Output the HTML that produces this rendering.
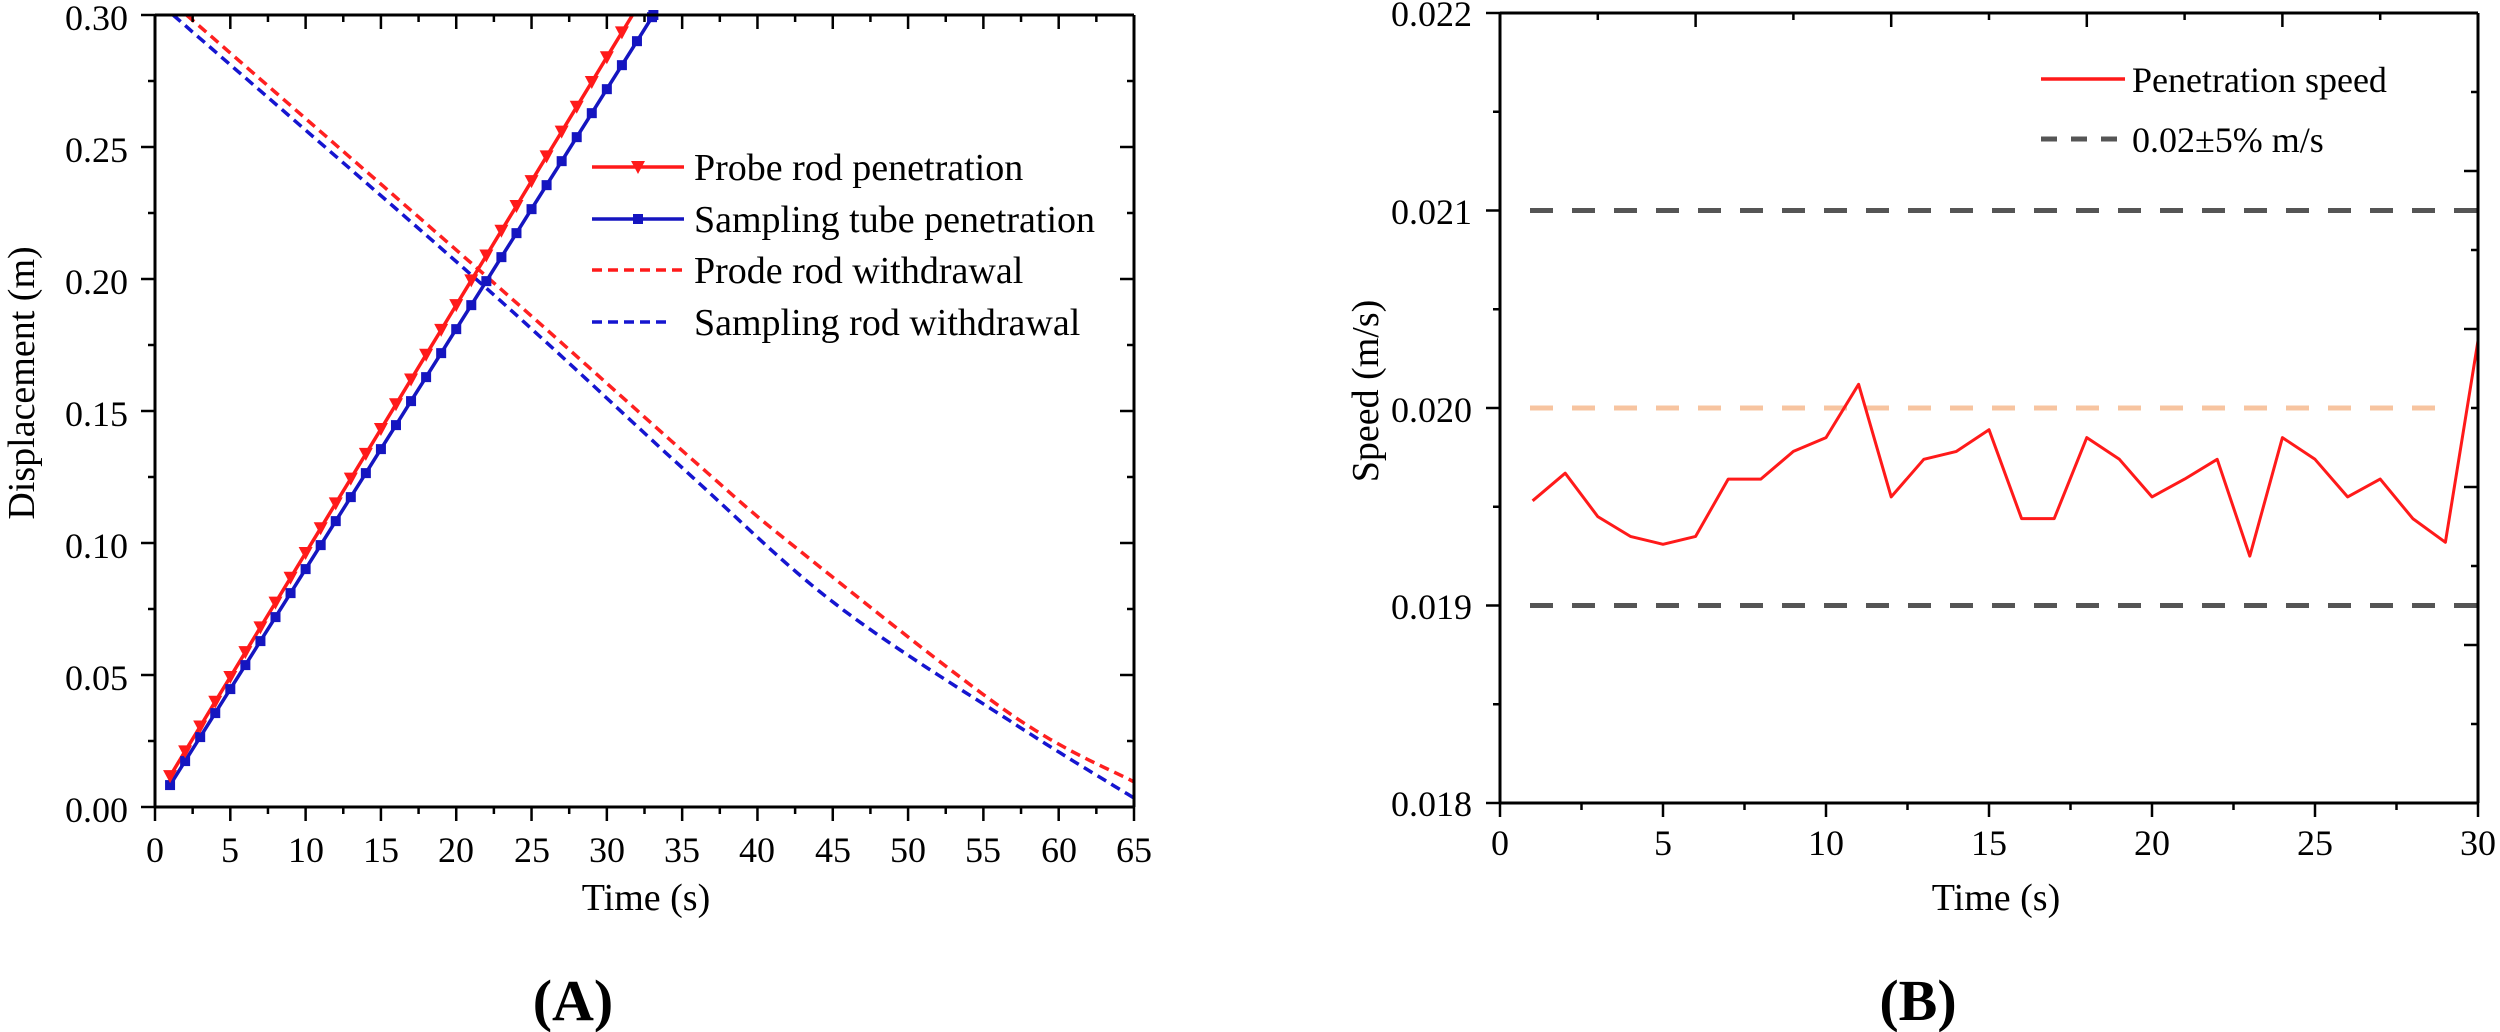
<!DOCTYPE html>
<html><head><meta charset="utf-8"><style>
html,body{margin:0;padding:0;background:#fff}
svg{display:block}
text{font-family:"Liberation Serif",serif;fill:#000}
</style></head><body>
<svg id="s" width="2500" height="1032" viewBox="0 0 2500 1032" xmlns="http://www.w3.org/2000/svg">
<rect width="2500" height="1032" fill="#fff"/>
<g id="g"></g>
<g font-size="36" text-anchor="end">
<text x="128" y="822">0.00</text><text x="128" y="690">0.05</text><text x="128" y="558">0.10</text>
<text x="128" y="426">0.15</text><text x="128" y="294">0.20</text><text x="128" y="162">0.25</text><text x="128" y="30">0.30</text>
</g>
<g font-size="36" text-anchor="middle">
<text x="155" y="862">0</text><text x="230" y="862">5</text><text x="306" y="862">10</text><text x="381" y="862">15</text>
<text x="456" y="862">20</text><text x="532" y="862">25</text><text x="607" y="862">30</text><text x="682" y="862">35</text>
<text x="757" y="862">40</text><text x="833" y="862">45</text><text x="908" y="862">50</text><text x="983" y="862">55</text>
<text x="1059" y="862">60</text><text x="1134" y="862">65</text>
</g>
<text x="646" y="910" font-size="38" text-anchor="middle">Time (s)</text>
<text transform="translate(34,383) rotate(-90)" font-size="38" text-anchor="middle">Displacement (m)</text>
<text x="573" y="1020" font-size="58" font-weight="bold" text-anchor="middle">(A)</text>
<g font-size="38">
<text x="694" y="180">Probe rod penetration</text>
<text x="694" y="232">Sampling tube penetration</text>
<text x="694" y="283">Prode rod withdrawal</text>
<text x="694" y="335">Sampling rod withdrawal</text>
</g>
<g font-size="36" text-anchor="end">
<text x="1472" y="816">0.018</text><text x="1472" y="619">0.019</text><text x="1472" y="422">0.020</text>
<text x="1472" y="224">0.021</text><text x="1472" y="26">0.022</text>
</g>
<g font-size="36" text-anchor="middle">
<text x="1500" y="855">0</text><text x="1663" y="855">5</text><text x="1826" y="855">10</text><text x="1989" y="855">15</text>
<text x="2152" y="855">20</text><text x="2315" y="855">25</text><text x="2478" y="855">30</text>
</g>
<text x="1996" y="910" font-size="38" text-anchor="middle">Time (s)</text>
<text transform="translate(1378,391) rotate(-90)" font-size="38" text-anchor="middle">Speed (m/s)</text>
<text x="1918" y="1020" font-size="58" font-weight="bold" text-anchor="middle">(B)</text>
<g font-size="36">
<text x="2132" y="92">Penetration speed</text>
<text x="2132" y="152">0.02±5% m/s</text>
</g>
</svg>
<script>
var g=document.getElementById('g'),NS='http://www.w3.org/2000/svg';
function el(t,a){var e=document.createElementNS(NS,t);for(var k in a)e.setAttribute(k,a[k]);g.appendChild(e);return e;}
function line(x1,y1,x2,y2,c,w,d){var a={x1:x1,y1:y1,x2:x2,y2:y2,stroke:c,'stroke-width':w};if(d)a['stroke-dasharray']=d;el('line',a);}
function path(pts,c,w,d){var s='M'+pts.map(function(p){return p[0].toFixed(1)+','+p[1].toFixed(1)}).join('L');var a={d:s,fill:'none',stroke:c,'stroke-width':w,'stroke-linejoin':'round'};if(d)a['stroke-dasharray']=d;el('path',a);}
var L=155,R=1134,T=15,B=807;
function ax(t){return L+t*(R-L)/65} function ay(v){return B-v*(B-T)/0.30}
// Catmull-Rom through points
function smooth(P,col){var out=[];for(var i=0;i<P.length-1;i++){var p0=P[Math.max(0,i-1)],p1=P[i],p2=P[i+1],p3=P[Math.min(P.length-1,i+2)];
 for(var s=0;s<1;s+=0.05){var s2=s*s,s3=s2*s;var f=function(a,b,c,d){return 0.5*((2*b)+(-a+c)*s+(2*a-5*b+4*c-d)*s2+(-a+3*b-3*c+d)*s3)};
 out.push([ax(f(p0[0],p1[0],p2[0],p3[0])),ay(f(p0[1],p1[1],p2[1],p3[1]))]);}}
 var l=P[P.length-1];out.push([ax(l[0]),ay(l[1])]);path(out,col,3.5,'10,6');}
smooth([[1.2,.30],[22.1,.196],[35.1,.128],[45.2,.0768],[57.2,.031],[65,.0034]],'#1515d0');
smooth([[2.1,.30],[22.6,.198],[35.8,.131],[42.4,.0989],[56.8,.0352],[65,.0095]],'#ff2020');
var pr=[],pb=[];
for(var t=1;t<=33;t++){var v=0.0117+(t-1)*0.00939;if(v<=0.3)pr.push([ax(t),ay(v)]);}
pr.push([ax(1+(0.3-0.0117)/0.00939),ay(0.3)]);
for(var t=1;t<=34;t++){var v=0.0083+(t-1)*0.00909;if(v<=0.3)pb.push([ax(t),ay(v)]);}
pb.push([ax(1+(0.3-0.0083)/0.00909),ay(0.3)]);
path(pb,'#1515c0',3.5);path(pr,'#ff1a1a',3.5);
pb.forEach(function(p){el('rect',{x:p[0]-5,y:p[1]-5,width:10,height:10,fill:'#1515c0'});});
pr.forEach(function(p,i){if(i<pr.length-1)el('path',{d:'M'+(p[0]-7)+','+(p[1]-6)+'L'+(p[0]+7)+','+(p[1]-6)+'L'+p[0]+','+(p[1]+7)+'Z',fill:'#ff1a1a'});});
line(L,T,R,T,'#000',3);line(L,B,R,B,'#000',3);line(L,T,L,B,'#000',3);line(R,T,R,B,'#000',3);
for(var i=0;i<=26;i++){var x=L+i*(R-L)/26,lg=i%2==0;line(x,B,x,B+(lg?14:7),'#000',2.5);line(x,T,x,T+(lg?14:7),'#000',2.5);}
for(var i=0;i<=12;i++){var y=B-i*(B-T)/12,lg=i%2==0;line(L,y,L-(lg?14:7),y,'#000',2.5);line(R,y,R-(lg?14:7),y,'#000',2.5);}
line(592,167,684,167,'#ff1a1a',3.5);el('path',{d:'M631,161L645,161L638,174Z',fill:'#ff1a1a'});
line(592,219,684,219,'#1515c0',3.5);el('rect',{x:633,y:214,width:10,height:10,fill:'#1515c0'});
line(592,270,684,270,'#ff1a1a',3.5,'10,6');
line(592,322,670,322,'#1515d0',3.5,'10,6');
var L2=1500,R2=2478,T2=13,B2=803;
function bx(t){return L2+t*(R2-L2)/30} function by(v){return B2-(v-0.018)*(B2-T2)/0.004}
line(1530,by(0.021),R2,by(0.021),'#555',5,'23,19');
line(1530,by(0.019),R2,by(0.019),'#555',5,'23,19');
line(1530,by(0.020),2451,by(0.020),'#f7c4a0',5,'23,19');
var sp=[.01953,.01967,.01945,.01935,.01931,.01935,.01964,.01964,.01978,.01985,.02012,.01955,.01974,.01978,.01989,.01944,.01944,.01985,.01974,.01955,.01964,.01974,.01925,.01985,.01974,.01955,.01964,.01944,.01932,.02034];
path(sp.map(function(v,i){return [bx(i+1),by(v)]}),'#ff1a1a',3);
line(L2,T2,R2,T2,'#000',3);line(L2,B2,R2,B2,'#000',3);line(L2,T2,L2,B2,'#000',3);line(R2,T2,R2,B2,'#000',3);
for(var i=0;i<=12;i++){var x=L2+i*(R2-L2)/12,lg=i%2==0;line(x,B2,x,B2+(lg?14:7),'#000',2.5);}
for(var i=1;i<10;i++){var x=L2+i*97.8,lg=i%2==0;line(x,T2,x,T2+(lg?14:7),'#000',2.5);}
for(var i=0;i<=8;i++){var y=B2-i*(B2-T2)/8,lg=i%2==0;line(L2,y,L2-(lg?14:7),y,'#000',2.5);}
for(var i=0;i<10;i++){var y=92+i*79,lg=i%2==1;if(y<B2)line(R2,y,R2-(lg?14:7),y,'#000',2.5);}
line(2041,79,2125,79,'#ff1a1a',3.5);
line(2041,139,2125,139,'#555',5,'16,14');
</script>
</body></html>
